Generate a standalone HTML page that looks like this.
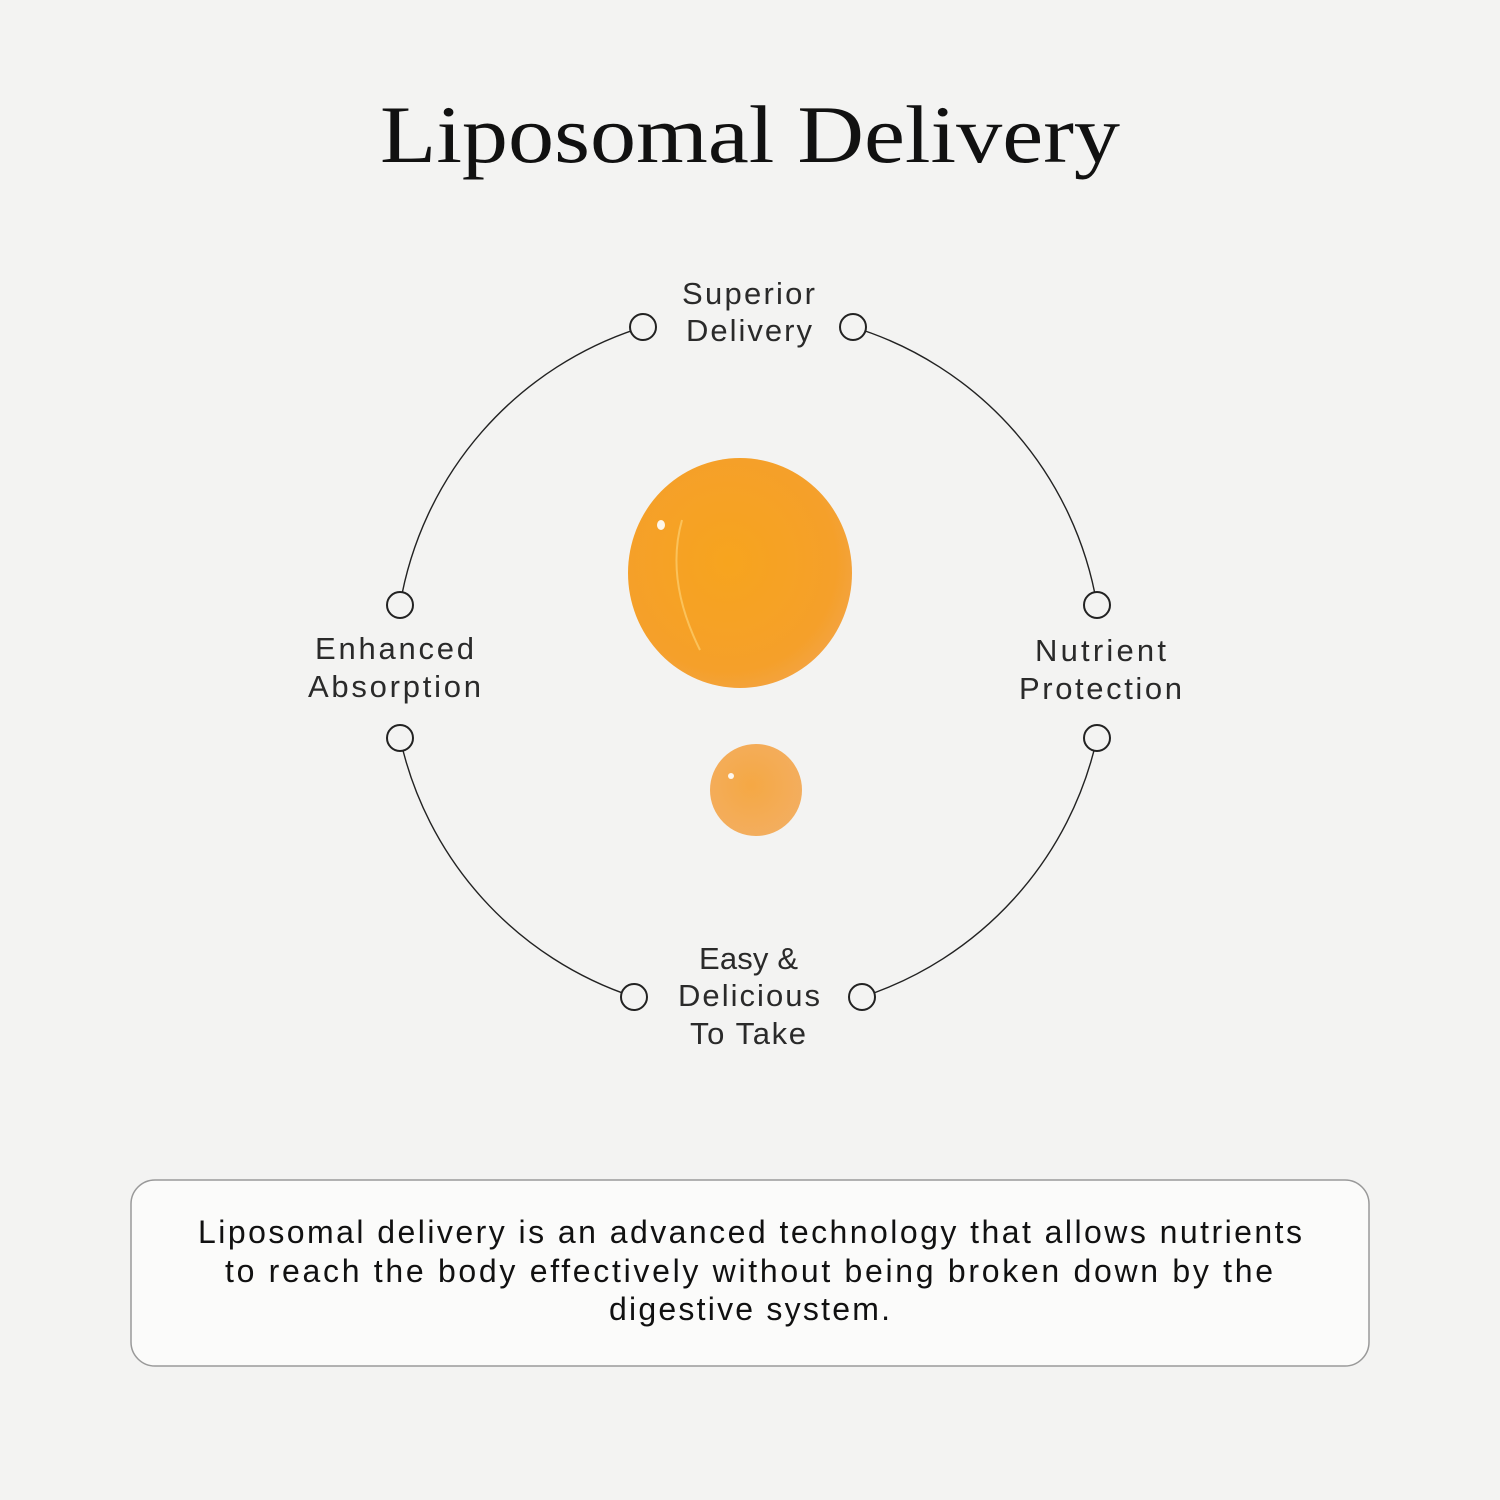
<!DOCTYPE html>
<html><head><meta charset="utf-8"><style>
html,body{margin:0;padding:0;width:1500px;height:1500px;background:#f3f3f2;overflow:hidden}
svg{position:absolute;left:0;top:0}
</style></head><body>
<svg width="1500" height="1500" viewBox="0 0 1500 1500">
<defs>
<radialGradient id="g1" cx="45%" cy="45%" r="60%">
<stop offset="0" stop-color="#f7a41e"/><stop offset="0.8" stop-color="#f5a02a"/><stop offset="1" stop-color="#f3a444"/>
</radialGradient>
<radialGradient id="g2" cx="45%" cy="45%" r="60%">
<stop offset="0" stop-color="#f5a844"/><stop offset="1" stop-color="#f3ae60"/>
</radialGradient>
</defs>
<text x="380" y="162" textLength="740" lengthAdjust="spacingAndGlyphs" font-family="Liberation Serif, serif" font-size="82" fill="#111">Liposomal Delivery</text>
<g fill="none" stroke="#222" stroke-width="1.4">
<path d="M643 327 A352 352 0 0 0 400 605"/>
<path d="M853 327 A352 352 0 0 1 1097 605"/>
<path d="M400 738 A352 352 0 0 0 634 997"/>
<path d="M1097 738 A352 352 0 0 1 862 997"/>
</g>
<g fill="#f3f3f2" stroke="#222" stroke-width="2">
<circle cx="643" cy="327" r="13"/><circle cx="853" cy="327" r="13"/>
<circle cx="400" cy="605" r="13"/><circle cx="1097" cy="605" r="13"/>
<circle cx="400" cy="738" r="13"/><circle cx="1097" cy="738" r="13"/>
<circle cx="634" cy="997" r="13"/><circle cx="862" cy="997" r="13"/>
</g>
<g font-family="Liberation Sans, sans-serif" font-size="31" fill="#2a2a2a" lengthAdjust="spacingAndGlyphs">
<text x="682" y="304" textLength="133">Superior</text><text x="686" y="341" textLength="126">Delivery</text>
<text x="315" y="659" textLength="159">Enhanced</text><text x="308" y="697" textLength="173">Absorption</text>
<text x="1035" y="661" textLength="131">Nutrient</text><text x="1019" y="699" textLength="163">Protection</text>
<text x="699" y="969" textLength="99">Easy &amp;</text><text x="678" y="1006" textLength="142">Delicious</text><text x="690" y="1044" textLength="116">To Take</text>
</g>
<ellipse cx="740" cy="573" rx="112" ry="115" fill="url(#g1)"/>
<path d="M682 520 Q665 580 700 650" stroke="#fbc25a" stroke-width="2" fill="none"/>
<ellipse cx="661" cy="525" rx="4" ry="5" fill="#fff" opacity="0.9"/>
<circle cx="756" cy="790" r="46" fill="url(#g2)"/>
<circle cx="731" cy="776" r="3" fill="#fff" opacity="0.9"/>
<rect x="131" y="1180" width="1238" height="186" rx="24" fill="#fbfbfa" stroke="#999" stroke-width="1.5"/>
<g font-family="Liberation Sans, sans-serif" font-size="32" fill="#111" lengthAdjust="spacingAndGlyphs">
<text x="198" y="1243" textLength="1104">Liposomal delivery is an advanced technology that allows nutrients</text>
<text x="225" y="1282" textLength="1048">to reach the body effectively without being broken down by the</text>
<text x="609" y="1320" textLength="281">digestive system.</text>
</g>
</svg>
</body></html>
